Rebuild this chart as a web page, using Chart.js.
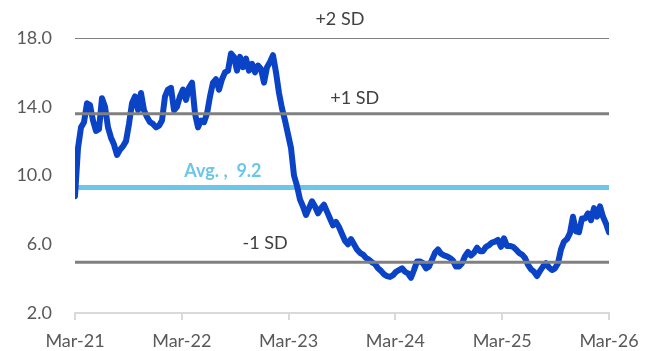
<!DOCTYPE html>
<html lang="en">
<head>
<meta charset="UTF-8">
<title>Chart</title>
<script src="https://cdn.jsdelivr.net/npm/chart.js"></script>
<style>
    html, body { margin: 0; padding: 0; background: #fff; }
</style>
</head>
<body>
<canvas id="myChart" width="659" height="351"></canvas>
<script>
// x axis labels (one per year, evenly spaced over the series)
const tickLabels = ['Mar-21', 'Mar-22', 'Mar-23', 'Mar-24', 'Mar-25', 'Mar-26'];

// series values, evenly spaced from Mar-21 to Mar-26
const values = [
    8.8, 11.6, 12.8, 13.1, 14.2, 14.1, 13.2, 12.6, 12.7, 14.5,
    14.0, 12.8, 12.2, 11.8, 11.2, 11.5, 11.7, 12.0, 13.0, 14.2,
    14.6, 13.8, 14.8, 13.8, 13.4, 13.1, 13.0, 12.8, 12.9, 13.2,
    14.6, 15.0, 15.1, 13.8, 14.0, 14.6, 15.0, 14.4, 15.1, 15.4,
    13.6, 12.8, 13.2, 13.1, 13.6, 14.6, 15.4, 15.6, 15.0, 15.6,
    16.0, 16.1, 17.1, 16.9, 16.1, 16.9, 16.3, 16.8, 16.1, 16.5,
    16.0, 16.4, 16.2, 15.4, 16.3, 16.6, 17.0, 16.0, 14.8, 13.9,
    13.2, 12.4, 11.6, 10.0, 9.4, 8.6, 8.2, 7.7, 8.1, 8.5,
    8.2, 7.8, 8.1, 8.3, 7.9, 7.5, 7.1, 7.3, 7.0, 6.6,
    6.2, 6.0, 6.3, 6.0, 5.7, 5.5, 5.4, 5.2, 5.1, 4.95,
    4.85, 4.6, 4.45, 4.25, 4.15, 4.1, 4.2, 4.4, 4.5, 4.6,
    4.4, 4.3, 4.05, 4.5, 5.0, 5.0, 4.9, 4.6, 4.7, 5.1,
    5.5, 5.7, 5.45, 5.35, 5.3, 5.2, 5.05, 4.7, 4.7, 4.9,
    5.3, 5.55, 5.35, 5.5, 5.8, 5.6, 5.6, 5.85, 5.95, 6.1,
    6.15, 6.25, 5.85, 6.35, 5.9, 5.9, 5.85, 5.7, 5.5, 5.4,
    5.2, 4.8, 4.55, 4.4, 4.15, 4.45, 4.7, 4.9, 4.65, 4.5,
    4.6, 4.9, 5.7, 6.15, 6.3, 6.65, 7.6, 6.75, 6.7, 7.5,
    7.5, 7.8, 7.4, 8.1, 7.6, 8.2, 7.6, 7.2, 6.7
];

// reference levels: +2 SD, +1 SD, average, -1 SD
const levelNames = ['+2 SD', '+1 SD', 'Avg. ,  9.2', '-1 SD'];
const levelValues = [18.0, 13.6, 9.3, 4.95];

const yMin = 2, yMax = 18, yStep = 4;

const lastIndex = values.length - 1;
const seriesPoints = values.map((v, i) => ({ x: i, y: v }));

function levelLine(v) {
    return [{ x: 0, y: v }, { x: lastIndex, y: v }];
}

// text labels above each reference line
const levelLabels = {
    id: 'levelLabels',
    afterDatasetsDraw(chart) {
        const ctx = chart.ctx;
        const area = chart.chartArea;
        const y = chart.scales.y;
        const pos = [0.496, 0.524, 0.277, 0.356];
        const lift = [19, 15, 16, 19];
        ctx.save();
        ctx.textAlign = 'center';
        ctx.textBaseline = 'middle';
        levelNames.forEach((name, i) => {
            const isAvg = i === 2;
            ctx.font = (isAvg ? 'bold ' : '') + '18px Lato';
            ctx.fillStyle = isAvg ? '#6ec5ea' : '#404040';
            const px = area.left + pos[i] * (area.right - area.left);
            ctx.fillText(name, px, y.getPixelForValue(levelValues[i]) - lift[i]);
        });
        ctx.restore();
    }
};

const ctx = document.getElementById('myChart').getContext('2d');
new Chart(ctx, {
    type: 'line',
    data: {
        datasets: [
            { data: levelLine(levelValues[0]), borderColor: '#808080', borderWidth: 2, order: 0 },
            { data: levelLine(levelValues[1]), borderColor: '#808080', borderWidth: 3, order: 0 },
            { data: levelLine(levelValues[3]), borderColor: '#808080', borderWidth: 3, order: 0 },
            {
                data: seriesPoints,
                borderColor: '#0a43c6',
                borderWidth: 6,
                borderJoinStyle: 'round',
                borderCapStyle: 'round',
                order: 1
            },
            { data: levelLine(levelValues[2]), borderColor: '#6ec5ea', borderWidth: 5, order: 2 }
        ]
    },
    options: {
        responsive: false,
        animation: false,
        parsing: false,
        elements: { point: { radius: 0 }, line: { tension: 0 } },
        layout: { padding: { top: 38, right: 50, left: 0, bottom: 0 } },
        plugins: {
            legend: { display: false },
            tooltip: { enabled: false }
        },
        scales: {
            x: {
                type: 'linear',
                min: 0,
                max: lastIndex,
                afterBuildTicks: scale => {
                    scale.ticks = tickLabels.map((l, k) => ({ value: k * lastIndex / (tickLabels.length - 1) }));
                },
                afterFit: scale => { scale.height = 38; },
                grid: {
                    display: true,
                    drawOnChartArea: false,
                    drawTicks: true,
                    tickLength: 7,
                    color: '#d9d9d9',
                    lineWidth: 2
                },
                border: { display: true, color: '#d9d9d9', width: 2 },
                ticks: {
                    autoSkip: false,
                    maxRotation: 0,
                    padding: 10,
                    color: '#595959',
                    font: { family: 'Lato', size: 18 },
                    callback: (v, i) => tickLabels[i]
                }
            },
            y: {
                min: yMin,
                max: yMax,
                afterFit: scale => { scale.width = 75; },
                grid: { display: false, drawTicks: false },
                border: { display: false },
                ticks: {
                    stepSize: yStep,
                    padding: 23,
                    color: '#595959',
                    font: { family: 'Lato', size: 18 },
                    callback: v => v.toFixed(1)
                }
            }
        }
    },
    plugins: [levelLabels]
});
</script>
</body>
</html>
